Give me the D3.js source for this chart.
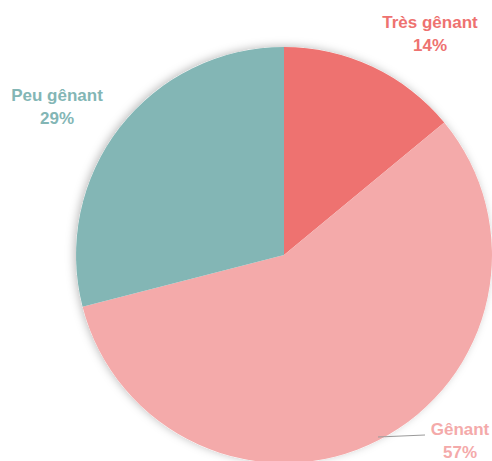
<!DOCTYPE html>
<html><head><meta charset="utf-8">
<script src="https://cdn.jsdelivr.net/npm/d3@7"></script>
<style>body{margin:0;background:#fff}</style>
</head><body>
<svg id="c" width="492" height="461"></svg>
<script>
const categories = ["Très gênant", "Gênant", "Peu gênant"];
const values = [14, 57, 29];
const colors = ["#EE7270", "#F4AAAA", "#83B6B5"];
const labelPos = [[430, 28], [460, 435], [57, 101]];

const svg = d3.select("#c");
const defs = svg.append("defs");
const f = defs.append("filter").attr("id","sh").attr("x","-10%").attr("y","-10%").attr("width","120%").attr("height","120%");
f.append("feDropShadow").attr("dx",-2).attr("dy",-1).attr("stdDeviation",4).attr("flood-color","#000").attr("flood-opacity",0.25);

const cx = 284, cy = 255, r = 208;
const pie = d3.pie().sort(null).value(d => d)(values);
const arc = d3.arc().innerRadius(0).outerRadius(r);
const g = svg.append("g").attr("transform", `translate(${cx},${cy})`);
g.append("circle").attr("r", r).attr("fill", "#fff").attr("filter","url(#sh)");
g.selectAll("path").data(pie).join("path").attr("d", arc).attr("fill", (d,i) => colors[i]);

// leader line for Gênant
svg.append("line").attr("x1",378).attr("y1",437).attr("x2",425).attr("y2",435).attr("stroke","#9a9a9a").attr("stroke-width",1);

categories.forEach((c,i) => {
  const t = svg.append("text").attr("x", labelPos[i][0]).attr("y", labelPos[i][1])
    .attr("text-anchor","middle").attr("fill", colors[i])
    .style("font-family","'Liberation Sans', Arial, sans-serif").style("font-weight","bold").style("font-size","17px");
  t.append("tspan").attr("x", labelPos[i][0]).text(c);
  t.append("tspan").attr("x", labelPos[i][0]).attr("dy", 23).text(values[i] + "%");
});
</script>
</body></html>
